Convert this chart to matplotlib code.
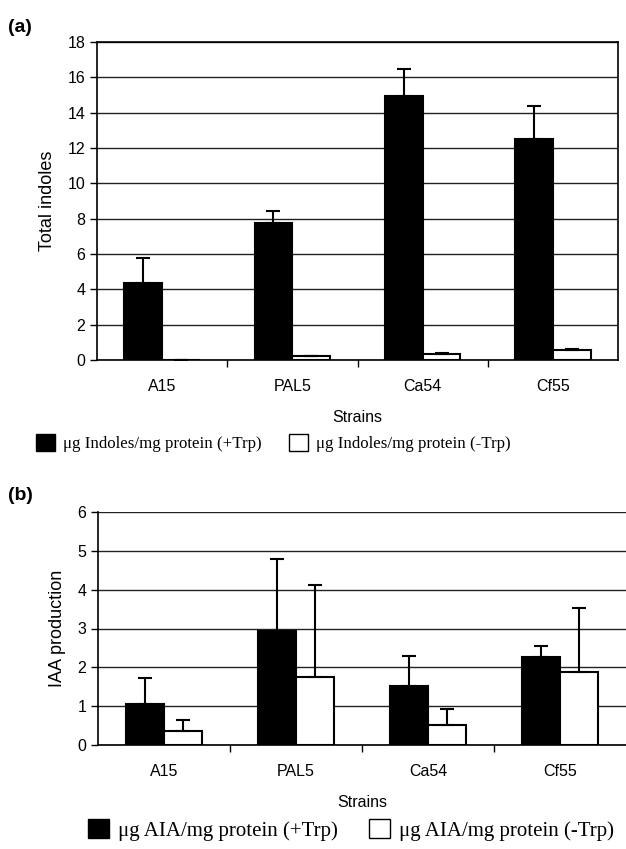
"""
    Indoles and IAA production by strain, two panels
"""
import matplotlib
matplotlib.use('Agg')
import matplotlib.pyplot as plt
import numpy as np
from matplotlib.patches import Patch

strains = ['A15', 'PAL5', 'Ca54', 'Cf55']

# panel (a): total indoles
indoles_trp = [4.34, 7.73, 14.92, 12.49]
indoles_trp_err = [1.41, 0.68, 1.53, 1.88]
indoles_notrp = [0.02, 0.20, 0.32, 0.58]
indoles_notrp_err = [0.0, 0.05, 0.05, 0.05]

# panel (b): IAA production
iaa_trp = [1.05, 2.93, 1.51, 2.27]
iaa_trp_err = [0.68, 1.86, 0.78, 0.28]
iaa_notrp = [0.37, 1.76, 0.51, 1.88]
iaa_notrp_err = [0.28, 2.37, 0.42, 1.64]

W, H = 626, 849
sans = ['Liberation Sans', 'DejaVu Sans']
serif = ['Liberation Serif', 'DejaVu Serif']
plt.rcParams['font.family'] = sans


def draw_panel(ax, plus, plus_err, minus, minus_err, ymax, step, ylabel, boxed):
    x = np.arange(len(strains))
    bw = 0.29
    err_kw = dict(ecolor='black', elinewidth=1.5, capsize=5, capthick=1.5)
    ax.bar(x - bw / 2, plus, bw, color='black', edgecolor='black', linewidth=1.5,
           yerr=[np.zeros(len(plus)), plus_err], error_kw=err_kw, zorder=3)
    ax.bar(x + bw / 2, minus, bw, color='white', edgecolor='black', linewidth=1.5,
           yerr=[np.zeros(len(minus)), minus_err], error_kw=err_kw, zorder=3)
    ax.set_xlim(-0.5, len(strains) - 0.5)
    ax.set_ylim(0, ymax)
    ax.set_yticks(np.arange(0, ymax + 0.01, step))
    ax.yaxis.grid(True, color='#222222', linewidth=1)
    ax.set_axisbelow(True)
    ax.set_xticks(x)
    ax.set_xticklabels(strains, fontsize=11.5)
    ax.set_xticks(np.arange(0.5, len(strains) - 0.5), minor=True)
    ax.tick_params(axis='x', which='major', length=0, pad=14)
    ax.tick_params(axis='x', which='minor', length=5, width=1, direction='out')
    ax.tick_params(axis='y', length=5, width=1, labelsize=11.5)
    ax.set_xlabel('Strains', fontsize=11.5, labelpad=11)
    ax.set_ylabel(ylabel, fontsize=13, labelpad=8)
    for s in ['left', 'bottom']:
        ax.spines[s].set_linewidth(1.2)
    if boxed:
        for s in ['top', 'right']:
            ax.spines[s].set_linewidth(1.2)
    else:
        ax.spines['top'].set_visible(False)
        ax.spines['right'].set_visible(False)


fig = plt.figure(figsize=(W / 100, H / 100), dpi=100)

ax_a = fig.add_axes([97 / W, 1 - 360 / H, 521 / W, 318 / H])
draw_panel(ax_a, indoles_trp, indoles_trp_err, indoles_notrp, indoles_notrp_err,
           18, 2, 'Total indoles', True)

ax_b = fig.add_axes([98 / W, 1 - 745 / H, 528 / W, 233 / H])
draw_panel(ax_b, iaa_trp, iaa_trp_err, iaa_notrp, iaa_notrp_err,
           6, 1, 'IAA production', False)

fig.text(8 / W, 1 - 27 / H, '(a)', fontsize=14, fontweight='bold', va='center')
fig.text(8 / W, 1 - 495 / H, '(b)', fontsize=14, fontweight='bold', va='center')

handles_a = [Patch(facecolor='black', edgecolor='black'),
             Patch(facecolor='white', edgecolor='black')]
handles_b = [Patch(facecolor='black', edgecolor='black'),
             Patch(facecolor='white', edgecolor='black')]
fig.legend(handles_a, ['\u03bcg Indoles/mg protein (+Trp)', '\u03bcg Indoles/mg protein (-Trp)'],
           loc='center', ncol=2, frameon=False, handlelength=1.15, handleheight=1.15,
           handletextpad=0.45, columnspacing=1.6, prop={'family': serif, 'size': 12.2},
           bbox_to_anchor=(273 / W, 1 - 443 / H))
fig.legend(handles_b, ['\u03bcg AIA/mg protein (+Trp)', '\u03bcg AIA/mg protein (-Trp)'],
           loc='center', ncol=2, frameon=False, handlelength=1.0, handleheight=1.0,
           handletextpad=0.45, columnspacing=1.5, prop={'family': serif, 'size': 15},
           bbox_to_anchor=(351 / W, 1 - 830 / H))

fig.savefig('out.png', dpi=100)
print('Saved plot in current dir as out.png')
